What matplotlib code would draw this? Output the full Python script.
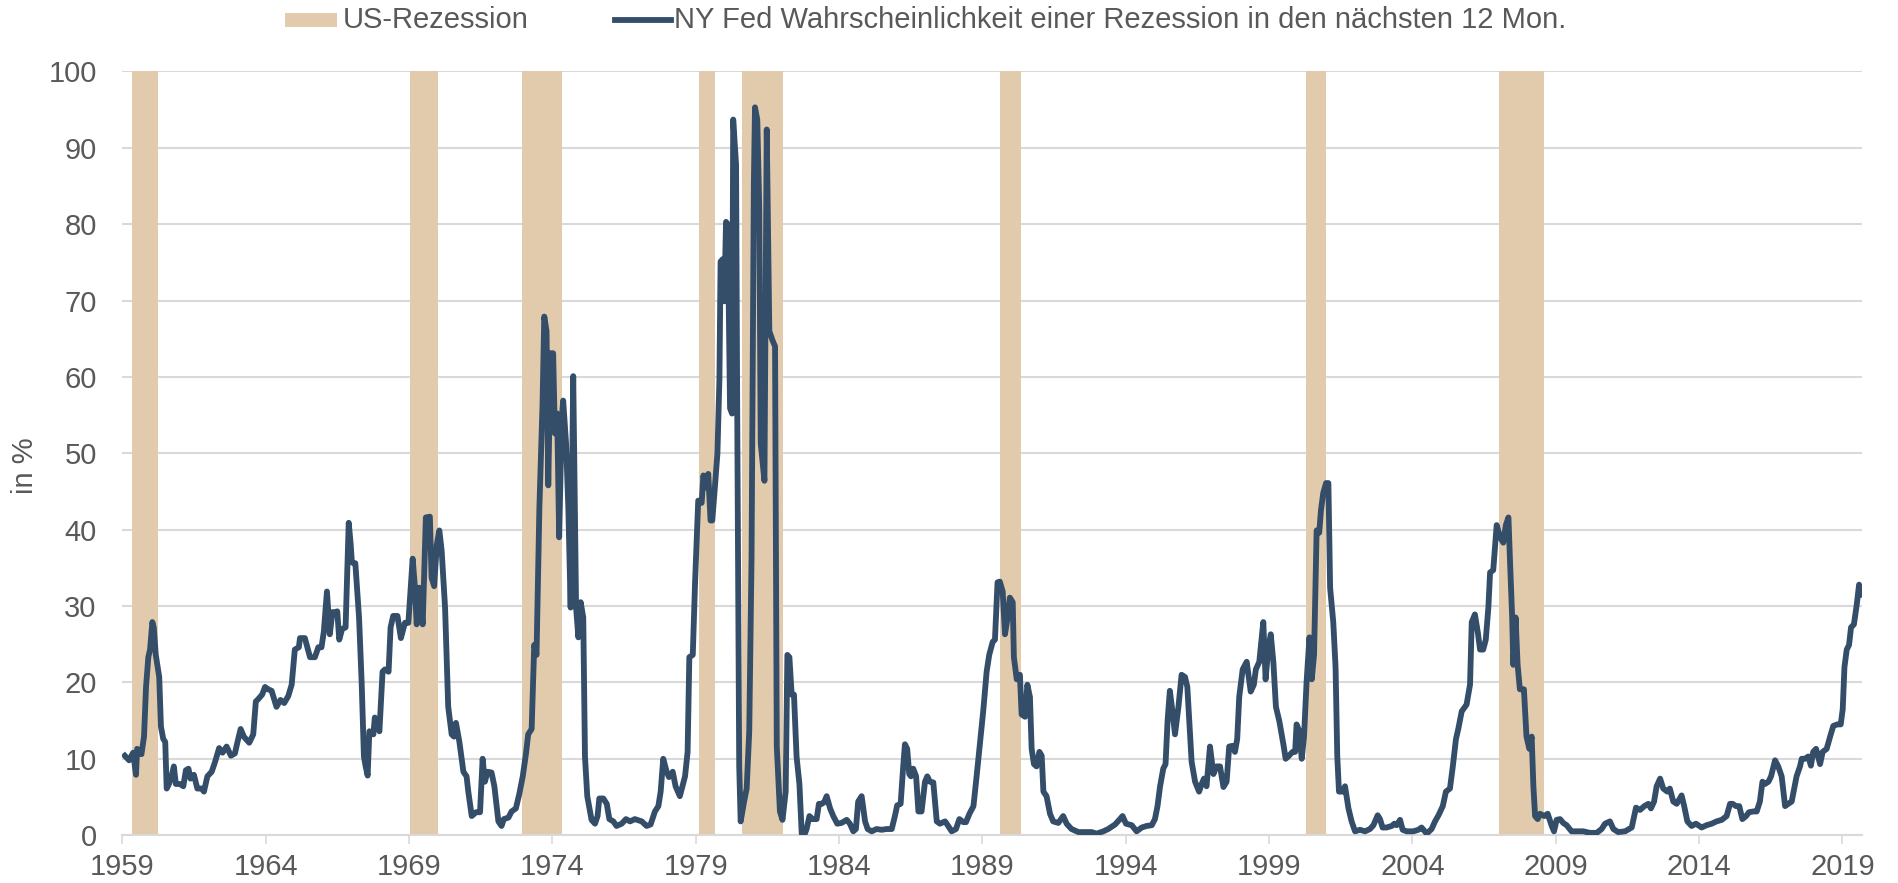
import matplotlib
matplotlib.use("Agg")
import matplotlib.pyplot as plt
from matplotlib.patches import Rectangle
from matplotlib.lines import Line2D

plt.rcParams['font.family'] = ['Liberation Sans', 'DejaVu Sans']

# recessions (position on the chart's year axis)
rec_start = [1959.34, 1969.02, 1972.93, 1979.11, 1980.60, 1989.61, 2000.28, 2007.02]
rec_end = [1960.24, 1970.01, 1974.35, 1979.67, 1982.03, 1990.35, 2001.00, 2008.60]

# NY Fed probability, in segments
yr_a = [1959.09, 1959.24, 1959.38, 1959.48, 1959.52, 1959.67, 1959.76, 1959.83, 1959.91, 1959.97,
        1960.05, 1960.10, 1960.17, 1960.29, 1960.35, 1960.43, 1960.50, 1960.55, 1960.63, 1960.72,
        1960.80, 1960.87, 1961.01, 1961.13, 1961.22, 1961.31, 1961.38, 1961.50, 1961.62, 1961.77,
        1961.85, 1961.97, 1962.12, 1962.23, 1962.38, 1962.50, 1962.64, 1962.79, 1962.93, 1963.02,
        1963.13, 1963.24, 1963.43, 1963.57, 1963.66, 1963.74, 1963.88, 1963.98, 1964.09, 1964.21,
        1964.38, 1964.52, 1964.65, 1964.79, 1964.91, 1965.02, 1965.16, 1965.20, 1965.37, 1965.55,
        1965.72, 1965.84, 1965.95, 1966.03, 1966.14, 1966.24, 1966.33, 1966.42, 1966.50, 1966.57,
        1966.67, 1966.79, 1966.90, 1966.97, 1967.01, 1967.13, 1967.26, 1967.35, 1967.43, 1967.49,
        1967.56, 1967.62, 1967.76, 1967.81, 1967.87, 1967.97, 1968.08, 1968.16, 1968.29, 1968.36,
        1968.45, 1968.60, 1968.72, 1968.86, 1968.98]
val_a = [10.4, 9.8, 10.8, 7.9, 11.3, 10.6, 12.9, 19.4, 23.3, 24.3,
         27.9, 27.2, 23.6, 20.7, 14.2, 12.6, 12.2, 6.1, 6.7, 7.7,
         9.0, 6.7, 6.7, 6.4, 8.5, 8.7, 7.4, 7.9, 6.1, 6.1,
         5.7, 7.7, 8.3, 9.5, 11.4, 10.8, 11.6, 10.4, 10.7, 12.2,
         13.9, 12.9, 12.1, 13.2, 17.5, 17.8, 18.4, 19.4, 19.1, 18.9,
         16.8, 17.7, 17.3, 18.2, 19.7, 24.3, 24.6, 25.8, 25.8, 23.3,
         23.3, 24.6, 24.6, 26.6, 31.9, 26.3, 29.2, 29.2, 29.3, 25.6,
         27.0, 27.2, 40.9, 38.0, 35.7, 35.6, 28.5, 20.1, 10.3, 9.0,
         7.8, 13.6, 13.2, 15.4, 14.9, 13.6, 21.4, 21.7, 21.4, 27.2,
         28.7, 28.7, 25.8, 27.8, 27.8]

yr_b = [1969.13, 1969.21, 1969.27, 1969.36, 1969.48, 1969.59, 1969.73, 1969.79, 1969.88, 1969.97,
        1970.06, 1970.14, 1970.26, 1970.37, 1970.49, 1970.57, 1970.64, 1970.76, 1970.90, 1971.01,
        1971.07, 1971.19, 1971.34, 1971.48, 1971.57, 1971.65, 1971.74, 1971.88, 1971.98, 1972.12,
        1972.23, 1972.31, 1972.47, 1972.58, 1972.73, 1972.85, 1972.97, 1973.08, 1973.16, 1973.28,
        1973.37, 1973.45, 1973.55, 1973.66, 1973.72, 1973.80, 1973.86, 1973.94, 1974.03, 1974.09,
        1974.17, 1974.24, 1974.33, 1974.38, 1974.48, 1974.56, 1974.64, 1974.73, 1974.83, 1974.91,
        1974.99, 1975.08, 1975.14, 1975.22, 1975.37, 1975.49, 1975.58, 1975.64, 1975.78, 1975.90,
        1975.99, 1976.13, 1976.24, 1976.42, 1976.57, 1976.71, 1976.88, 1977.12, 1977.29, 1977.43,
        1977.58, 1977.70, 1977.78, 1977.87, 1977.99, 1978.07, 1978.20, 1978.30, 1978.45, 1978.63,
        1978.72, 1978.78, 1978.90, 1978.98]
val_b = [36.2, 32.4, 27.6, 32.4, 27.6, 41.6, 41.7, 33.7, 32.6, 38.0,
         39.9, 37.3, 29.8, 16.8, 13.2, 12.9, 14.7, 12.2, 8.3, 7.7,
         5.7, 2.5, 3.0, 3.0, 10.0, 7.0, 8.3, 8.2, 6.4, 1.8,
         1.2, 2.1, 2.3, 3.1, 3.5, 5.4, 7.7, 10.6, 13.2, 13.9,
         24.9, 23.6, 42.9, 56.5, 67.9, 66.0, 45.8, 63.1, 63.1, 52.6,
         55.2, 39.0, 54.6, 56.9, 51.3, 42.9, 29.8, 60.1, 29.8, 25.9,
         30.5, 28.5, 10.3, 5.1, 2.0, 1.5, 2.5, 4.8, 4.8, 4.1,
         2.1, 1.8, 1.2, 1.5, 2.1, 1.8, 2.1, 1.8, 1.2, 1.4,
         3.1, 3.8, 5.7, 10.0, 8.3, 7.6, 8.3, 6.4, 5.1, 7.7,
         10.9, 23.3, 23.6, 33.1]

yr_c = [1979.09, 1979.21, 1979.27, 1979.36, 1979.44, 1979.52, 1979.58, 1979.67, 1979.76, 1979.83,
        1979.87, 1979.94, 1980.00, 1980.06, 1980.12, 1980.20, 1980.27, 1980.31, 1980.41, 1980.45,
        1980.52, 1980.57, 1980.69, 1980.78, 1980.87, 1980.95, 1981.03, 1981.07, 1981.15, 1981.22,
        1981.27, 1981.40, 1981.44, 1981.48, 1981.57, 1981.69, 1981.77, 1981.83, 1981.94, 1982.03,
        1982.14, 1982.20, 1982.27, 1982.35, 1982.43, 1982.52, 1982.62, 1982.70, 1982.79, 1982.87,
        1982.97, 1983.08, 1983.22, 1983.30, 1983.40, 1983.48, 1983.57, 1983.69, 1983.80, 1983.94,
        1984.09, 1984.27, 1984.38, 1984.50, 1984.59, 1984.67, 1984.79, 1984.91, 1985.00, 1985.14,
        1985.31, 1985.49, 1985.66, 1985.84, 1985.95, 1986.03, 1986.15, 1986.24, 1986.30, 1986.38,
        1986.45, 1986.51, 1986.59, 1986.69, 1986.77, 1986.88, 1987.00, 1987.08, 1987.17, 1987.29,
        1987.41, 1987.52, 1987.70, 1987.81, 1987.93, 1988.08, 1988.20, 1988.34, 1988.43, 1988.55,
        1988.69, 1988.80, 1988.92, 1989.03, 1989.15, 1989.24, 1989.36, 1989.44, 1989.53]
val_c = [43.8, 43.5, 47.1, 45.5, 47.3, 41.2, 41.2, 45.5, 50.0, 59.8,
         75.1, 75.4, 69.9, 80.3, 80.0, 55.9, 55.2, 93.7, 87.8, 55.9,
         9.0, 1.8, 4.4, 6.1, 13.6, 36.4, 85.2, 95.3, 93.7, 82.0,
         51.3, 46.4, 68.9, 92.4, 66.0, 64.7, 64.0, 11.6, 3.1, 2.0,
         5.7, 23.6, 23.3, 18.4, 18.4, 10.3, 6.7, 0.2, 0.0, 0.8,
         2.5, 2.1, 2.1, 4.1, 4.1, 4.3, 5.1, 3.5, 2.5, 1.5,
         1.6, 2.0, 1.5, 0.5, 0.8, 4.4, 5.1, 1.8, 0.8, 0.5,
         0.8, 0.7, 0.8, 0.8, 2.5, 3.9, 4.1, 9.0, 11.9, 11.3,
         8.0, 7.7, 8.7, 7.7, 3.1, 3.1, 7.0, 7.7, 7.0, 6.9,
         1.8, 1.5, 1.8, 1.2, 0.5, 0.8, 2.1, 1.7, 1.7, 2.8,
         3.8, 7.7, 12.2, 16.2, 21.4, 23.6, 25.3, 25.6, 33.1]

yr_d = [1989.61, 1989.71, 1989.79, 1989.87, 1989.96, 1990.06, 1990.10, 1990.20, 1990.31, 1990.37,
        1990.49, 1990.57, 1990.66, 1990.72, 1990.80, 1990.89, 1990.99, 1991.07, 1991.13, 1991.24,
        1991.36, 1991.47, 1991.65, 1991.82, 1991.94, 1992.11, 1992.35, 1992.58, 1992.81, 1992.99,
        1993.22, 1993.39, 1993.63, 1993.80, 1993.89, 1994.01, 1994.21, 1994.38, 1994.56, 1994.73,
        1994.91, 1995.02, 1995.11, 1995.20, 1995.31, 1995.39, 1995.46, 1995.54, 1995.63, 1995.72,
        1995.84, 1995.95, 1996.07, 1996.15, 1996.22, 1996.30, 1996.42, 1996.56, 1996.65, 1996.73,
        1996.82, 1996.94, 1997.06, 1997.17, 1997.29, 1997.41, 1997.52, 1997.61, 1997.73, 1997.81,
        1997.89, 1997.96, 1998.08, 1998.22, 1998.36, 1998.47, 1998.54, 1998.66, 1998.80, 1998.88,
        1998.97, 1999.06, 1999.15, 1999.24, 1999.36, 1999.50, 1999.58, 1999.67, 1999.82, 1999.91,
        1999.96, 2000.06, 2000.14, 2000.22, 2000.31, 2000.41, 2000.49, 2000.57, 2000.66, 2000.75,
        2000.81, 2000.89, 2000.99, 2001.07, 2001.13, 2001.24, 2001.32, 2001.38, 2001.44, 2001.57,
        2001.65, 2001.77, 2001.88]
val_d = [33.2, 31.9, 26.3, 28.2, 31.1, 30.5, 23.3, 20.4, 21.0, 15.8,
         15.5, 19.7, 18.1, 11.3, 9.3, 9.0, 10.9, 10.4, 5.7, 5.1,
         2.8, 1.8, 1.6, 2.5, 1.5, 0.8, 0.4, 0.4, 0.4, 0.2,
         0.5, 0.8, 1.4, 2.1, 2.5, 1.5, 1.3, 0.5, 1.0, 1.2,
         1.3, 2.1, 3.8, 6.4, 8.7, 9.3, 14.9, 18.9, 16.2, 13.2,
         16.8, 21.0, 20.7, 19.4, 14.9, 9.6, 7.0, 5.7, 6.7, 7.4,
         6.4, 11.6, 8.0, 9.0, 9.0, 6.3, 7.0, 11.6, 11.7, 10.9,
         12.6, 18.1, 21.7, 22.7, 18.8, 19.7, 21.7, 22.7, 27.9, 20.4,
         24.3, 26.3, 22.7, 16.8, 14.9, 11.9, 10.0, 10.3, 10.9, 10.9,
         14.5, 13.6, 10.0, 12.9, 20.1, 25.9, 20.4, 23.6, 39.9, 39.6,
         42.5, 44.8, 46.1, 46.1, 32.4, 27.9, 22.0, 10.3, 5.7, 5.7,
         6.4, 3.5, 1.8]

yr_e = [2002.00, 2002.17, 2002.35, 2002.52, 2002.64, 2002.79, 2002.87, 2002.96, 2003.10, 2003.28,
        2003.37, 2003.45, 2003.57, 2003.66, 2003.80, 2004.03, 2004.21, 2004.32, 2004.50, 2004.67,
        2004.79, 2004.91, 2005.06, 2005.17, 2005.31, 2005.41, 2005.52, 2005.60, 2005.72, 2005.89,
        2006.01, 2006.07, 2006.18, 2006.28, 2006.36, 2006.47, 2006.56, 2006.65, 2006.71, 2006.82,
        2006.94, 2007.06, 2007.17, 2007.26, 2007.35, 2007.40, 2007.48, 2007.52, 2007.60, 2007.67,
        2007.75, 2007.89, 2007.98, 2008.08, 2008.16, 2008.22, 2008.28, 2008.37, 2008.45, 2008.60,
        2008.72, 2008.86, 2008.94, 2009.03, 2009.15, 2009.26, 2009.38, 2009.55, 2009.73, 2009.96,
        2010.19, 2010.43, 2010.60, 2010.72, 2010.89, 2011.01, 2011.18, 2011.42, 2011.65, 2011.80,
        2011.94, 2012.09, 2012.23, 2012.32, 2012.43, 2012.52, 2012.64, 2012.75, 2012.89, 2012.98]
val_e = [0.5, 0.7, 0.5, 0.8, 1.3, 2.6, 2.1, 1.0, 1.0, 1.2,
         1.5, 1.3, 2.0, 0.7, 0.5, 0.5, 0.7, 1.0, 0.2, 0.8,
         1.8, 2.6, 3.8, 5.7, 6.1, 9.0, 12.6, 13.9, 16.2, 17.1,
         19.7, 27.9, 28.9, 26.6, 24.3, 24.3, 25.6, 29.8, 34.4, 34.7,
         40.6, 39.0, 38.3, 40.6, 41.6, 36.4, 28.5, 22.3, 28.5, 22.3,
         19.1, 19.1, 12.9, 11.3, 12.9, 6.4, 2.5, 2.1, 2.8, 2.5,
         2.8, 1.2, 0.5, 2.0, 2.1, 1.6, 1.3, 0.5, 0.5, 0.5,
         0.3, 0.3, 0.8, 1.5, 1.8, 0.8, 0.4, 0.5, 1.0, 3.6,
         3.3, 3.8, 4.1, 3.5, 4.4, 6.4, 7.4, 6.1, 5.7, 6.1]

yr_f = [2013.10, 2013.22, 2013.39, 2013.48, 2013.59, 2013.74, 2013.89, 2014.09, 2014.26, 2014.44,
        2014.61, 2014.79, 2014.96, 2015.08, 2015.17, 2015.29, 2015.40, 2015.51, 2015.64, 2015.74,
        2015.89, 2016.01, 2016.12, 2016.21, 2016.30, 2016.42, 2016.51, 2016.65, 2016.76, 2016.88,
        2017.00, 2017.11, 2017.23, 2017.40, 2017.52, 2017.58, 2017.69, 2017.81, 2017.90, 2017.98,
        2018.08, 2018.22, 2018.31, 2018.45, 2018.57, 2018.68, 2018.82, 2018.94, 2019.01, 2019.07,
        2019.15, 2019.23, 2019.30, 2019.40, 2019.50, 2019.58, 2019.63, 2019.67]
val_f = [4.4, 4.1, 5.2, 3.8, 1.8, 1.2, 1.5, 1.0, 1.3, 1.5,
         1.8, 2.0, 2.5, 4.1, 4.1, 3.8, 3.8, 2.1, 2.5, 3.0,
         3.1, 3.1, 4.4, 7.0, 6.7, 7.0, 7.7, 9.8, 9.0, 7.7,
         3.8, 4.1, 4.4, 7.7, 9.0, 10.0, 10.0, 10.3, 9.1, 10.9,
         11.3, 9.3, 10.9, 11.3, 12.9, 14.3, 14.5, 14.5, 16.5, 22.0,
         24.3, 24.9, 27.2, 27.6, 30.2, 32.8, 32.1, 31.5]

years = yr_a + yr_b + yr_c + yr_d + yr_e + yr_f
probs = val_a + val_b + val_c + val_d + val_e + val_f

tick_years = [1959, 1964, 1969, 1974, 1979, 1984, 1989, 1994, 1999, 2004, 2009, 2014, 2019]

line_col = '#344e69'
band_col = '#e2cbad'
txt_col = '#595959'
grid_col = '#d9d9d9'
fs = 21

fig = plt.figure(figsize=(18.98, 8.83), dpi=100)
ax = fig.add_axes([0.0641, 0.0542, 0.9169, 0.8649])

for s, e in zip(rec_start, rec_end):
    ax.axvspan(s, e, color=band_col, lw=0, zorder=2)

ax.plot(years, probs, color=line_col, lw=4.2, zorder=3, solid_joinstyle='round')

ax.set_xlim(1958.98, 2019.68)
ax.set_ylim(0, 100)
ax.set_yticks(range(0, 101, 10))
ax.set_xticks(tick_years)
ax.set_xticklabels([str(t) for t in tick_years])
ax.yaxis.grid(True, color=grid_col, lw=1.5, zorder=1)
ax.set_axisbelow(True)
for sp in ['top', 'right', 'left']:
    ax.spines[sp].set_visible(False)
ax.spines['bottom'].set_color(grid_col)
ax.spines['bottom'].set_linewidth(1.5)
ax.tick_params(axis='x', colors=txt_col, labelsize=fs, length=6.5, width=1.2, color=grid_col, pad=6)
ax.tick_params(axis='y', colors=txt_col, labelsize=fs, length=0, pad=18)
ax.set_ylabel('in %', fontsize=fs, color=txt_col)
ax.yaxis.set_label_coords(-0.0475, 0.484)

# legend drawn at the top
W, H = 1898, 883
fig.patches.append(Rectangle((285 / W, 1 - 26.7 / H), 52 / W, 14 / H,
                             transform=fig.transFigure, color=band_col, lw=0))
fig.text(343 / W, 1 - 19.7 / H, 'US-Rezession', fontsize=fs, color=txt_col, va='center')
fig.lines.append(Line2D([615 / W, 671 / W], [1 - 19.7 / H, 1 - 19.7 / H],
                        transform=fig.transFigure, color=line_col, lw=4.2))
fig.text(674 / W, 1 - 19.7 / H, 'NY Fed Wahrscheinlichkeit einer Rezession in den nächsten 12 Mon.',
         fontsize=fs, color=txt_col, va='center')

fig.savefig('out.png', dpi=100)
